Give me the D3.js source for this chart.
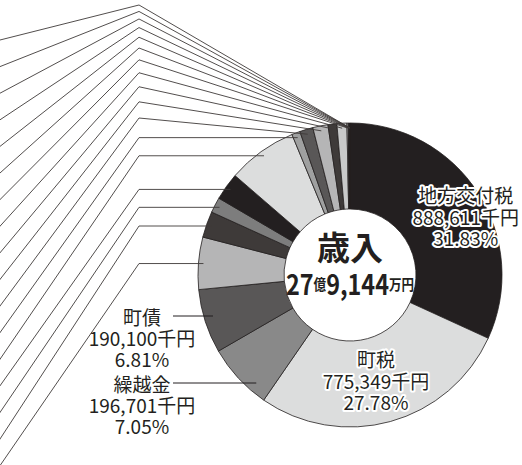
<!DOCTYPE html>
<html>
<head>
  <meta charset="utf-8">
  <title>歳入</title>
  <script src="https://d3js.org/d3.v7.min.js"></script>
  <style>
    body { margin: 0; background: #fff; }
    svg { display: block; font-family: "Noto Sans CJK JP", "Noto Sans", sans-serif; }
  </style>
</head>
<body>
  <div id="chart"></div>
  <script>
    // revenue items, clockwise from 12 o'clock (千円)
    const categories = ["地方交付税", "町税", "繰越金", "町債", "県支出金", "諸収入", "使用料及び手数料",
      "分担金及び負担金", "国庫支出金", "財産収入", "地方譲与税", "繰入金", "寄附金", "地方消費税交付金",
      "地方特例交付金", "配当割交付金", "法人事業税交付金", "環境性能割交付金", "株式等譲渡所得割交付金",
      "利子割交付金", "交通安全対策特別交付金"];
    const amounts = [888611, 775349, 196701, 190100, 155000, 77500, 45700,
      81400, 207000, 24800, 39500, 45000, 26300, 29500,
      3500, 2200, 1300, 900, 600, 379, 100];
    const fills = ["#231f20", "#dcdddd", "#898989", "#595757", "#b5b5b6", "#3e3a39", "#7d7d7d",
      "#231f20", "#dcdddd", "#9fa0a0", "#595757", "#b5b5b6", "#3e3a39", "#c9caca",
      "#efefef", "#595757", "#dcdddd", "#3e3a39", "#b5b5b6", "#231f20", "#898989"];

    const width = 522, height = 465;
    const cx = 350, cy = 275, rOut = 152, rIn = 66;
    const total = d3.sum(amounts);

    const svg = d3.select("#chart").append("svg")
      .attr("width", width).attr("height", height);

    const g = svg.append("g").attr("transform", `translate(${cx},${cy})`);

    const pie = d3.pie().sort(null).value(d => d)(amounts);
    const arc = d3.arc().innerRadius(rIn).outerRadius(rOut);

    g.selectAll("path.slice")
      .data(pie)
      .join("path")
      .attr("class", "slice")
      .attr("d", arc)
      .attr("fill", (d, i) => fills[i])
      .attr("stroke", "#231f20")
      .attr("stroke-width", 0.8);

    const pt = (a, r) => [r * Math.sin(a), -r * Math.cos(a)];
    const mid = d => (d.startAngle + d.endAngle) / 2;

    // leader lines for the small items (their labels sit outside the frame on the left)
    const others = pie.slice(4).reverse();
    const elbowX = 139 - cx;
    const lines = others.map((d, k) => {
      const a = pt(mid(d), 147);
      const ey = k < 11 ? 5 + 5.9 * k + 0.54 * k * k - cy : a[1];
      const ly = 40 + 26.6 * k - cy;
      return [a, [elbowX, ey], [-6 - cx, ly + (ly - ey) * 6 / 139]];
    });
    g.selectAll("path.leader")
      .data(lines)
      .join("path")
      .attr("class", "leader")
      .attr("d", d3.line())
      .attr("fill", "none")
      .attr("stroke", "#3e3a39")
      .attr("stroke-width", 0.9);

    const rowsFor = i => [categories[i], d3.format(",")(amounts[i]) + "千円",
      (amounts[i] / total * 100).toFixed(2) + "%"];

    // labels inside the ring
    const inside = [
      { i: 0, dx: 24, dy: 0 },
      { i: 1, dx: -3, dy: 0 }
    ];
    inside.forEach(o => {
      const c = arc.centroid(pie[o.i]);
      rowsFor(o.i).forEach((s, j) => g.append("text")
        .attr("x", c[0] + o.dx)
        .attr("y", c[1] + o.dy + (j - 1) * 21.5)
        .attr("dominant-baseline", "central")
        .attr("text-anchor", "middle")
        .attr("font-size", 19)
        .attr("fill", "#231f20")
        .attr("stroke", "#fff")
        .attr("stroke-width", 4)
        .attr("stroke-linejoin", "round")
        .attr("paint-order", "stroke")
        .text(s));
    });

    // labels on the left for 町債 and 繰越金
    const outside = [
      { i: 3, x: 142, y: 316 },
      { i: 2, x: 142, y: 383 }
    ];
    outside.forEach(o => {
      rowsFor(o.i).forEach((s, j) => svg.append("text")
        .attr("x", o.x)
        .attr("y", o.y + j * 21)
        .attr("dominant-baseline", "central")
        .attr("text-anchor", "middle")
        .attr("font-size", 19)
        .attr("fill", "#231f20")
        .text(s));
      const dy = o.y - cy;
      const ex = cx - Math.sqrt(143 * 143 - dy * dy);
      svg.append("line")
        .attr("x1", 173).attr("x2", ex)
        .attr("y1", o.y).attr("y2", o.y)
        .attr("stroke", "#231f20")
        .attr("stroke-width", 1);
    });

    // centre title
    g.append("text")
      .attr("text-anchor", "middle")
      .attr("y", -29)
      .attr("dominant-baseline", "central")
      .attr("font-size", 33)
      .attr("font-weight", "bold")
      .attr("fill", "#231f20")
      .text("歳入");

    const oku = Math.floor(total / 100000);
    const man = Math.round((total % 100000) / 10);
    const sub = g.append("text")
      .attr("text-anchor", "middle")
      .attr("y", 8)
      .attr("dominant-baseline", "central")
      .attr("font-weight", "bold")
      .attr("fill", "#231f20")
      .attr("textLength", 128)
      .attr("lengthAdjust", "spacingAndGlyphs");
    sub.append("tspan").attr("font-size", 28).text(oku);
    sub.append("tspan").attr("font-size", 15).text("億");
    sub.append("tspan").attr("font-size", 28).text(d3.format(",")(man));
    sub.append("tspan").attr("font-size", 15).text("万円");
  </script>
</body>
</html>
